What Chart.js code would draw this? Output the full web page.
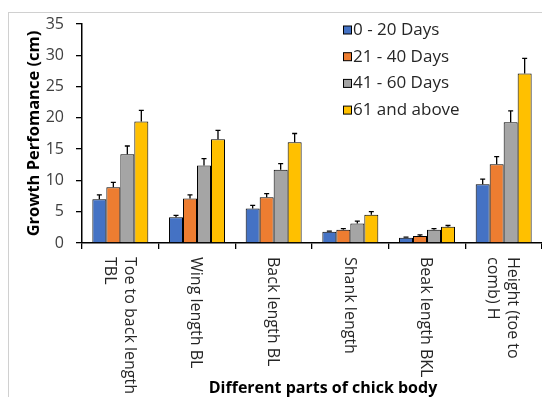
<!DOCTYPE html>
<html>
<head>
<meta charset="utf-8">
<script src="https://cdn.jsdelivr.net/npm/chart.js@4"></script>
<style>
  html, body { margin: 0; padding: 0; background: #fff; }
  #wrap { position: relative; width: 542px; height: 397px; }
</style>
</head>
<body>
<div id="wrap"><canvas id="growthChart"></canvas></div>
<script>
// Chart data
const categories = [
    ['Toe to back length', 'TBL'],
    ['Wing length BL'],
    ['Back length BL'],
    ['Shank length'],
    ['Beak length BKL'],
    ['Height (toe to', 'comb) H']
];
const seriesNames = ['0 - 20 Days', '21 - 40 Days', '41 - 60 Days', '61 and above'];
const days0to20 = [7.0, 4.1, 5.5, 1.8, 0.85, 9.4];
const days21to40 = [8.9, 7.1, 7.3, 2.1, 1.1, 12.6];
const days41to60 = [14.2, 12.4, 11.7, 3.1, 2.1, 19.3];
const days61up = [19.4, 16.6, 16.1, 4.5, 2.6, 27.1];
const err0to20 = [0.7, 0.3, 0.5, 0.1, 0.1, 0.8];
const err21to40 = [0.8, 0.6, 0.6, 0.2, 0.2, 1.2];
const err41to60 = [1.3, 1.1, 1.0, 0.4, 0.2, 1.8];
const err61up = [1.8, 1.4, 1.4, 0.5, 0.2, 2.4];
const yTicks = [0, 5, 10, 15, 20, 25, 30, 35];
const xTitle = 'Different parts of chick body';
const yTitle = 'Growth Perfomance (cm)';

const colors = ['#4472C4', '#ED7D31', '#A5A5A5', '#FFC000'];
const FONT = '"Open Sans", "Liberation Sans", sans-serif';

// Frame around the figure
const framePlugin = {
    id: 'frame',
    beforeDraw(chart) {
        const ctx = chart.ctx;
        ctx.save();
        ctx.strokeStyle = '#d0d0d0';
        ctx.lineWidth = 1;
        ctx.strokeRect(8.5, 12.5, 800, 800);
        ctx.restore();
    }
};

// Upper error whiskers
const errorBarPlugin = {
    id: 'errorBars',
    afterDatasetsDraw(chart) {
        const ctx = chart.ctx;
        const yScale = chart.scales.y;
        ctx.save();
        ctx.strokeStyle = '#000';
        ctx.lineWidth = 1.3;
        chart.data.datasets.forEach((ds, di) => {
            const meta = chart.getDatasetMeta(di);
            meta.data.forEach((bar, i) => {
                const top = yScale.getPixelForValue(ds.data[i] + ds.errors[i]);
                ctx.beginPath();
                ctx.moveTo(bar.x, bar.y);
                ctx.lineTo(bar.x, top);
                ctx.moveTo(bar.x - 2.5, top);
                ctx.lineTo(bar.x + 2.5, top);
                ctx.stroke();
            });
        });
        ctx.restore();
    }
};

// Rotated category labels, x title and legend
const textPlugin = {
    id: 'texts',
    afterDraw(chart) {
        const ctx = chart.ctx;
        const xScale = chart.scales.x;
        const area = chart.chartArea;
        ctx.save();

        // category labels, reading top to bottom
        ctx.font = '16px ' + FONT;
        ctx.fillStyle = '#262626';
        ctx.textAlign = 'left';
        ctx.textBaseline = 'middle';
        categories.forEach((lines, i) => {
            const cx = xScale.getPixelForValue(i) - 1;
            ctx.save();
            ctx.translate(cx, area.bottom + 14);
            ctx.rotate(Math.PI / 2);
            lines.forEach((line, k) => {
                ctx.fillText(line, 0, (k - (lines.length - 1) / 2) * 20);
            });
            ctx.restore();
        });

        // x axis title
        ctx.font = 'bold 16px ' + FONT;
        ctx.fillStyle = '#000';
        ctx.textAlign = 'center';
        ctx.textBaseline = 'alphabetic';
        ctx.fillText(xTitle, 323, 393);

        // legend
        ctx.font = '17px ' + FONT;
        ctx.textAlign = 'left';
        ctx.textBaseline = 'middle';
        chart.data.datasets.forEach((ds, di) => {
            const y = 30 + di * 26.7;
            ctx.fillStyle = ds.backgroundColor;
            ctx.fillRect(343.5, y - 4, 8, 8);
            ctx.strokeStyle = '#000';
            ctx.lineWidth = 1;
            ctx.strokeRect(343.5, y - 4, 8, 8);
            ctx.fillStyle = '#262626';
            ctx.fillText(ds.label, 353, y);
        });
        ctx.restore();
    }
};

const values = [days0to20, days21to40, days41to60, days61up];
const errors = [err0to20, err21to40, err41to60, err61up];

const datasets = seriesNames.map((name, i) => ({
    label: name,
    data: values[i],
    errors: errors[i],
    backgroundColor: colors[i],
    borderColor: '#000',
    borderWidth: 1,
    categoryPercentage: 0.73,
    barPercentage: 1.0
}));

new Chart(document.getElementById('growthChart'), {
    type: 'bar',
    data: {
        labels: categories.map(l => l.join(' ')),
        datasets: datasets
    },
    options: {
        responsive: true,
        maintainAspectRatio: false,
        animation: false,
        layout: {
            padding: { top: 24, left: 0, right: 0, bottom: 148 }
        },
        plugins: {
            legend: { display: false },
            tooltip: { enabled: false }
        },
        scales: {
            x: {
                offset: true,
                ticks: { display: false },
                grid: {
                    display: true,
                    offset: true,
                    drawOnChartArea: false,
                    drawTicks: true,
                    tickLength: 6,
                    color: '#000',
                    lineWidth: 1.3
                },
                border: { display: true, color: '#000', width: 1.5 }
            },
            y: {
                min: 0,
                max: 35,
                afterBuildTicks(scale) {
                    scale.ticks = yTicks.map(v => ({ value: v }));
                },
                afterFit(scale) {
                    scale.width = 82;
                },
                ticks: {
                    color: '#404040',
                    padding: 12,
                    font: { family: FONT, size: 16 }
                },
                grid: {
                    display: true,
                    drawOnChartArea: false,
                    drawTicks: true,
                    tickLength: 6,
                    color: '#000',
                    lineWidth: 1.3
                },
                border: { display: true, color: '#000', width: 1.5 },
                title: {
                    display: true,
                    text: yTitle,
                    color: '#000',
                    padding: { top: 24, bottom: 0 },
                    font: { family: FONT, size: 16.5, weight: 'bold' }
                }
            }
        }
    },
    plugins: [framePlugin, errorBarPlugin, textPlugin]
});
</script>
</body>
</html>
